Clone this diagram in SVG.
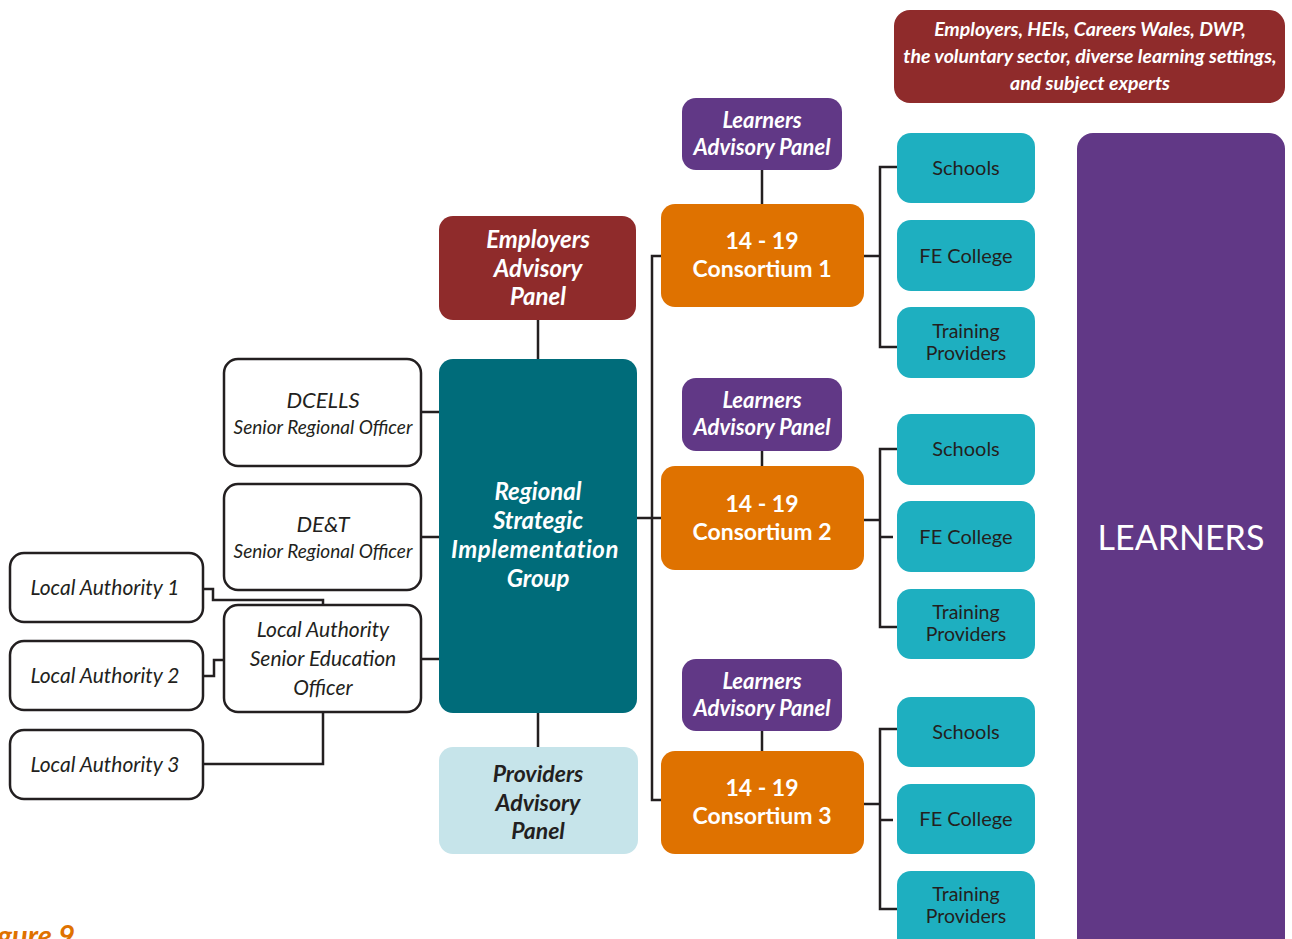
<svg xmlns="http://www.w3.org/2000/svg" width="1292" height="939" viewBox="0 0 1292 939">
<style>
text{font-family:Lato,"Open Sans","Liberation Sans",sans-serif;text-anchor:middle}
.w{fill:#fff}
.bi{font-weight:bold;font-style:italic}
.b{font-weight:bold}
.i{font-style:italic;fill:#231f20}
.d{fill:#231f20}
.ln{fill:none;stroke:#231f20;stroke-width:2.5}
.wb{fill:#fff;stroke:#231f20;stroke-width:2.5}
.red{fill:#8f2b2b}
.pur{fill:#613886}
.org{fill:#df7200}
.teal{fill:#006c7a}
.cyan{fill:#1eafc0}
.lb{fill:#c6e4ea}
</style>
<g id="connectors" class="ln">
<path d="M538 320V359M538 713V747"/>
<path d="M421 412H439M421 537H439M421 659H439"/>
<path d="M637 518H661M661 256H652V800H661"/>
<path d="M762 170V204M762 451V466M762 731V751"/>
<path d="M864 256H880M897 167H880V347H897"/>
<path d="M864 520H880M897 449H880V627H897M880 537H893"/>
<path d="M864 804H880M897 729H880V909H897M880 820H893"/>
<path d="M203 589H213V600H323V605"/>
<path d="M203 676H214V660H224"/>
<path d="M203 764H323V712"/>
</g>
<g id="stakeholders"><rect class="red" x="894" y="10" width="391" height="93" rx="16"/>
<text class="w bi" font-size="19.5" x="1090" y="36">Employers, HEIs, Careers Wales, DWP,</text>
<text class="w bi" font-size="19.5" x="1090" y="63">the voluntary sector, diverse learning settings,</text>
<text class="w bi" font-size="19.5" x="1090" y="90">and subject experts</text></g>
<g id="lap1"><rect class="pur" x="682" y="98" width="160" height="72" rx="14"/>
<text class="w bi" font-size="22" x="762" y="128">Learners</text><text class="w bi" font-size="22" x="762" y="155">Advisory Panel</text></g>
<g id="lap2"><rect class="pur" x="682" y="378" width="160" height="73" rx="14"/>
<text class="w bi" font-size="22" x="762" y="408">Learners</text><text class="w bi" font-size="22" x="762" y="435">Advisory Panel</text></g>
<g id="lap3"><rect class="pur" x="682" y="659" width="160" height="72" rx="14"/>
<text class="w bi" font-size="22" x="762" y="689">Learners</text><text class="w bi" font-size="22" x="762" y="716">Advisory Panel</text></g>
<g id="c1"><rect class="org" x="661" y="204" width="203" height="103" rx="14"/>
<text class="w b" font-size="23" x="762" y="249">14 - 19</text><text class="w b" font-size="23" x="762" y="277">Consortium 1</text></g>
<g id="c2"><rect class="org" x="661" y="466" width="203" height="104" rx="14"/>
<text class="w b" font-size="23" x="762" y="512">14 - 19</text><text class="w b" font-size="23" x="762" y="540">Consortium 2</text></g>
<g id="c3"><rect class="org" x="661" y="751" width="203" height="103" rx="14"/>
<text class="w b" font-size="23" x="762" y="796">14 - 19</text><text class="w b" font-size="23" x="762" y="824">Consortium 3</text></g>
<g id="eap"><rect class="red" x="439" y="216" width="197" height="104" rx="14"/>
<text class="w bi" font-size="24" x="538" y="248">Employers</text><text class="w bi" font-size="24" x="538" y="277">Advisory</text><text class="w bi" font-size="24" x="538" y="305">Panel</text></g>
<g id="rsig"><rect class="teal" x="439" y="359" width="198" height="354" rx="14"/>
<text class="w bi" font-size="24" x="538" y="500">Regional</text><text class="w bi" font-size="24" x="538" y="529">Strategic</text><text class="w bi" font-size="24" x="535" y="558" letter-spacing="0.5">Implementation</text><text class="w bi" font-size="24" x="538" y="587">Group</text></g>
<g id="pap"><rect class="lb" x="439" y="747" width="199" height="107" rx="14"/>
<text class="d bi" font-size="23" x="538" y="782">Providers</text><text class="d bi" font-size="23" x="538" y="811">Advisory</text><text class="d bi" font-size="23" x="538" y="839">Panel</text></g>
<g id="dcells"><rect class="wb" x="224" y="359" width="197" height="107" rx="14"/>
<text class="i" font-size="22" x="323" y="408">DCELLS</text><text class="i" font-size="19" x="323" y="434">Senior Regional Officer</text></g>
<g id="det"><rect class="wb" x="224" y="484" width="197" height="106" rx="14"/>
<text class="i" font-size="22" x="323" y="532">DE&amp;T</text><text class="i" font-size="19" x="323" y="558">Senior Regional Officer</text></g>
<g id="laseo"><rect class="wb" x="224" y="605" width="197" height="107" rx="14"/>
<text class="i" font-size="21" x="323" y="637">Local Authority</text><text class="i" font-size="21" x="323" y="666">Senior Education</text><text class="i" font-size="21" x="323" y="695">Officer</text></g>
<g id="la1"><rect class="wb" x="10" y="553" width="193" height="69" rx="14"/>
<text class="i" font-size="21" x="105" y="595">Local Authority  1</text></g>
<g id="la2"><rect class="wb" x="10" y="641" width="193" height="69" rx="14"/>
<text class="i" font-size="21" x="105" y="683">Local Authority  2</text></g>
<g id="la3"><rect class="wb" x="10" y="730" width="193" height="69" rx="14"/>
<text class="i" font-size="21" x="105" y="772">Local Authority  3</text></g>
<g id="s1"><rect class="cyan" x="897" y="133" width="138" height="70" rx="14"/><text class="d" font-size="20" x="966" y="175">Schools</text></g>
<g id="f1"><rect class="cyan" x="897" y="220" width="138" height="71" rx="14"/><text class="d" font-size="20" x="966" y="263">FE College</text></g>
<g id="t1"><rect class="cyan" x="897" y="307" width="138" height="71" rx="14"/><text class="d" font-size="19.5" x="966" y="338">Training</text><text class="d" font-size="19.5" x="966" y="360">Providers</text></g>
<g id="s2"><rect class="cyan" x="897" y="414" width="138" height="71" rx="14"/><text class="d" font-size="20" x="966" y="456">Schools</text></g>
<g id="f2"><rect class="cyan" x="897" y="501" width="138" height="71" rx="14"/><text class="d" font-size="20" x="966" y="544">FE College</text></g>
<g id="t2"><rect class="cyan" x="897" y="589" width="138" height="70" rx="14"/><text class="d" font-size="19.5" x="966" y="619">Training</text><text class="d" font-size="19.5" x="966" y="641">Providers</text></g>
<g id="s3"><rect class="cyan" x="897" y="697" width="138" height="70" rx="14"/><text class="d" font-size="20" x="966" y="739">Schools</text></g>
<g id="f3"><rect class="cyan" x="897" y="784" width="138" height="70" rx="14"/><text class="d" font-size="20" x="966" y="826">FE College</text></g>
<g id="t3"><rect class="cyan" x="897" y="871" width="138" height="84" rx="14"/><text class="d" font-size="19.5" x="966" y="901">Training</text><text class="d" font-size="19.5" x="966" y="923">Providers</text></g>
<g id="learners"><rect class="pur" x="1077" y="133" width="208" height="830" rx="16"/>
<text class="w" font-size="34" x="1181" y="550">LEARNERS</text></g>
<text fill="#df7200" class="bi" font-size="29" x="75" y="946" style="text-anchor:end">Figure 9</text>
</svg>
